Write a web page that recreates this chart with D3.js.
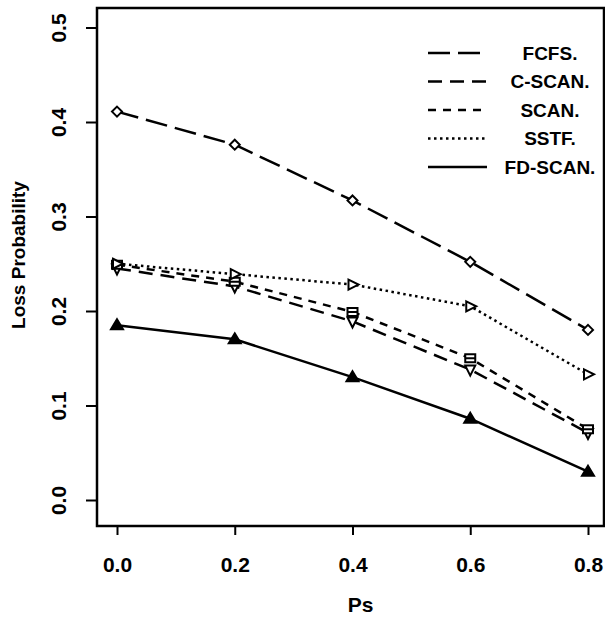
<!DOCTYPE html>
<html>
<head>
<meta charset="utf-8">
<script src="https://cdn.jsdelivr.net/npm/d3@7"></script>
<style>
  body { margin: 0; background: #fff; }
  svg text { font-family: "Liberation Sans", Arial, sans-serif; font-weight: bold; fill: #000; }
</style>
</head>
<body>
<div id="chart"></div>
<script>
// values
var ps = [0.0, 0.2, 0.4, 0.6, 0.8];
var fcfs   = [0.411, 0.376, 0.317, 0.252, 0.180];
var cscan  = [0.245, 0.226, 0.189, 0.138, 0.071];
var scan   = [0.249, 0.231, 0.199, 0.150, 0.075];
var sstf   = [0.250, 0.239, 0.228, 0.205, 0.133];
var fdscan = [0.185, 0.170, 0.130, 0.086, 0.030];
var xTicks = [0.0, 0.2, 0.4, 0.6, 0.8];
var yTicks = [0.0, 0.1, 0.2, 0.3, 0.4, 0.5];
var names = ["FCFS.", "C-SCAN.", "SCAN.", "SSTF.", "FD-SCAN."];

var series = [
  {name: names[0], values: fcfs,   dash: "22,8", marker: "diamond"},
  {name: names[1], values: cscan,  dash: "14,8", marker: "down"},
  {name: names[2], values: scan,   dash: "8,7",  marker: "box"},
  {name: names[3], values: sstf,   dash: "2.5,3.5", marker: "right"},
  {name: names[4], values: fdscan, dash: null,   marker: "up"}
];

var W = 605, H = 619;
var box = {left: 97, top: 8, right: 604, bottom: 526};

var svg = d3.select("#chart").append("svg")
    .attr("width", W)
    .attr("height", H);

var x = d3.scaleLinear().domain([0, 0.8]).range([117, 588]);
var y = d3.scaleLinear().domain([0, 0.5]).range([500, 27.5]);

// frame
svg.append("rect")
    .attr("x", box.left).attr("y", box.top)
    .attr("width", box.right - box.left)
    .attr("height", box.bottom - box.top)
    .attr("fill", "none")
    .attr("stroke", "#000")
    .attr("stroke-width", 2.5);

// axes
var xAxis = svg.append("g")
    .attr("transform", "translate(0," + box.bottom + ")")
    .call(d3.axisBottom(x).tickValues(xTicks).tickFormat(d3.format(".1f")).tickSize(9).tickPadding(22));
var yAxis = svg.append("g")
    .attr("transform", "translate(" + box.left + ",0)")
    .call(d3.axisLeft(y).tickValues(yTicks).tickFormat(d3.format(".1f")).tickSize(11));

xAxis.select(".domain").remove();
yAxis.select(".domain").remove();
svg.selectAll(".tick line").attr("stroke", "#000").attr("stroke-width", 2);
xAxis.selectAll("text").style("font-size", "21px");
// y labels are turned on their side
yAxis.selectAll(".tick text")
    .style("font-size", "21px")
    .attr("text-anchor", "middle")
    .attr("x", 0)
    .attr("y", 0)
    .attr("dy", "0.35em")
    .attr("transform", "translate(-38,0) rotate(-90)");

svg.append("text")
    .attr("x", (box.left + box.right) / 2 + 10)
    .attr("y", 612)
    .attr("text-anchor", "middle")
    .style("font-size", "21px")
    .text("Ps");

svg.append("text")
    .attr("transform", "translate(25,255) rotate(-90)")
    .attr("text-anchor", "middle")
    .style("font-size", "19px")
    .text("Loss Probability");

// lines
var line = d3.line()
    .x(function(d, i) { return x(ps[i]); })
    .y(function(d) { return y(d); });

series.forEach(function(s) {
  svg.append("path")
      .datum(s.values)
      .attr("d", line)
      .attr("fill", "none")
      .attr("stroke", "#000")
      .attr("stroke-width", 2.5)
      .attr("stroke-dasharray", s.dash);
});

// markers
function markerPath(type) {
  var r = 5;
  if (type == "diamond") return "M0,-" + r + "L" + r + ",0L0," + r + "L-" + r + ",0Z";
  if (type == "up") return "M0,-6L6,4L-6,4Z";
  if (type == "down") return "M-5,-4L5,-4L0,6Z";
  if (type == "right") return "M-4,-5L6,0L-4,5Z";
  if (type == "box") return "M-5,-4H5V4H-5Z M-5,0H5";
}

series.forEach(function(s) {
  svg.append("g").selectAll("path")
      .data(s.values)
      .enter().append("path")
      .attr("transform", function(d, i) { return "translate(" + x(ps[i]) + "," + y(d) + ")"; })
      .attr("d", markerPath(s.marker))
      .attr("fill", s.marker == "up" ? "#000" : "#fff")
      .attr("stroke", "#000")
      .attr("stroke-width", 2);
});

// legend
var legendY = d3.scalePoint().domain(names).range([53, 167]);
var legend = svg.append("g").selectAll("g")
    .data(series)
    .enter().append("g")
    .attr("transform", function(d) { return "translate(0," + legendY(d.name) + ")"; });

legend.append("line")
    .attr("x1", 428).attr("x2", 487)
    .attr("stroke", "#000")
    .attr("stroke-width", 2.5)
    .attr("stroke-dasharray", function(d) { return d.dash; });

legend.append("text")
    .attr("x", 550)
    .attr("dy", "0.35em")
    .attr("text-anchor", "middle")
    .style("font-size", "19px")
    .text(function(d) { return d.name; });
</script>
</body>
</html>
